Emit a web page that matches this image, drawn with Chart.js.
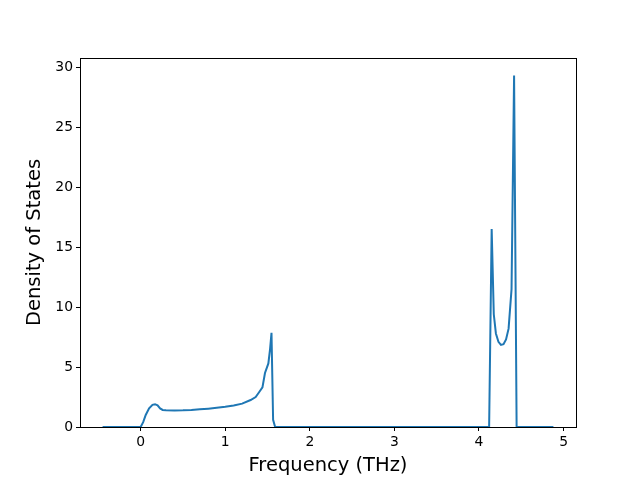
<!DOCTYPE html>
<html lang="en">
<head>
    <meta charset="UTF-8">
    <title>Phonon DOS</title>
    <script src="https://cdn.jsdelivr.net/npm/chart.js"></script>
    <style>
        html, body { margin: 0; padding: 0; background: #fff; }
        #wrap { width: 640px; height: 480px; }
    </style>
</head>
<body>
    <div id="wrap"><canvas id="dosChart" width="640" height="480"></canvas></div>

    <script>
        // frequency (THz) and density of states
        var freq = [-0.45, 0.0, 0.03, 0.06, 0.1, 0.14, 0.17, 0.2, 0.23, 0.26, 0.3, 0.4, 0.5, 0.6, 0.7,
                    0.8, 0.9, 1.0, 1.1, 1.2, 1.3, 1.36, 1.4, 1.44, 1.47, 1.51, 1.53, 1.547, 1.566, 1.59,
                    4.12, 4.15, 4.175, 4.2, 4.23, 4.26, 4.29, 4.32, 4.35, 4.385, 4.415, 4.445, 4.88];
        var dos = [0, 0, 0.4, 1.0, 1.55, 1.85, 1.9, 1.8, 1.55, 1.42, 1.4, 1.38, 1.39, 1.42, 1.47,
                   1.53, 1.6, 1.68, 1.8, 1.95, 2.25, 2.5, 2.9, 3.3, 4.5, 5.3, 6.5, 7.85, 0.6, 0,
                   0, 16.5, 9.4, 7.8, 7.1, 6.85, 6.9, 7.3, 8.2, 11.5, 29.3, 0, 0];
        var xTicks = [0, 1, 2, 3, 4, 5];
        var yTicks = [0, 5, 10, 15, 20, 25, 30];

        var points = freq.map(function (f, i) { return { x: f, y: dos[i] }; });

        // matplotlib-like frame on all four sides
        var framePlugin = {
            id: 'frame',
            afterDraw: function (chart) {
                var a = chart.chartArea, ctx = chart.ctx;
                ctx.save();
                ctx.strokeStyle = '#000';
                ctx.lineWidth = 1;
                ctx.strokeRect(Math.round(a.left) + 0.5, Math.round(a.top) + 0.5,
                    Math.round(a.right - a.left), Math.round(a.bottom - a.top));
                ctx.restore();
            }
        };

        var tickFont = { family: 'DejaVu Sans', size: 13.9 };
        var titleFont = { family: 'DejaVu Sans', size: 19.5 };

        new Chart(document.getElementById('dosChart').getContext('2d'), {
            type: 'line',
            data: {
                datasets: [{
                    data: points,
                    borderColor: '#1f77b4',
                    borderWidth: 2,
                    pointRadius: 0,
                    tension: 0,
                    fill: false
                }]
            },
            options: {
                responsive: false,
                animation: false,
                layout: { padding: { left: 0, top: 58, right: 64, bottom: 0 } },
                plugins: { legend: { display: false }, tooltip: { enabled: false } },
                scales: {
                    x: {
                        type: 'linear',
                        min: -0.717,
                        max: 5.147,
                        afterFit: function (s) { s.height = 53; },
                        afterBuildTicks: function (s) { s.ticks = xTicks.map(function (v) { return { value: v }; }); },
                        ticks: { font: tickFont, color: '#000', padding: 3, maxRotation: 0 },
                        grid: { drawOnChartArea: false, drawTicks: true, tickLength: 4, color: '#000' },
                        border: { color: '#000' },
                        title: { display: true, text: 'Frequency (THz)', font: titleFont, color: '#000', padding: { top: 0, bottom: 2 } }
                    },
                    y: {
                        min: 0,
                        max: 30.77,
                        afterFit: function (s) { s.width = 80; },
                        afterBuildTicks: function (s) { s.ticks = yTicks.map(function (v) { return { value: v }; }); },
                        ticks: { font: tickFont, color: '#000', padding: 3 },
                        grid: { drawOnChartArea: false, drawTicks: true, tickLength: 4, color: '#000' },
                        border: { color: '#000' },
                        title: { display: true, text: 'Density of States', font: titleFont, color: '#000', padding: { top: 23, bottom: 0 } }
                    }
                }
            },
            plugins: [framePlugin]
        });
    </script>
</body>
</html>
